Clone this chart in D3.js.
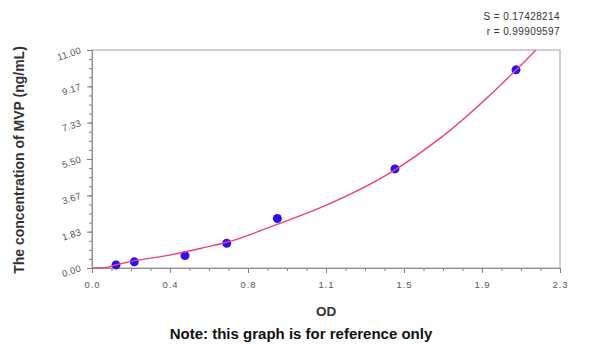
<!DOCTYPE html>
<html>
<head>
<meta charset="utf-8">
<script src="https://cdn.jsdelivr.net/npm/d3@7"></script>
<style>
  body { margin: 0; background: #fff; }
  svg text { font-family: "Liberation Sans", Arial, sans-serif; }
</style>
</head>
<body>
<div id="chart"></div>
<script>
// standards: OD vs concentration
var od = [0.118, 0.208, 0.457, 0.662, 0.911, 1.489, 2.084];
var conc = [0.156, 0.312, 0.625, 1.25, 2.5, 5, 10];

// fitted curve
var fitOd = [0, 0.064, 0.113, 0.211, 0.359, 0.555, 0.663, 0.909, 1.12, 1.489, 1.71, 2.084, 2.182];
var fitConc = [0, 0.02, 0.15, 0.37, 0.61, 1.04, 1.3, 2.2, 3.03, 4.95, 6.54, 9.99, 11.0];

var xTickLabels = ["0.0", "0.4", "0.8", "1.1", "1.5", "1.9", "2.3"];
var yTickLabels = ["0.00", "1.83", "3.67", "5.50", "7.33", "9.17", "11.00"];
var xMax = 2.3, yMax = 11;
var statS = "S = 0.17428214";
var statR = "r = 0.99909597";

var W = 600, H = 355;
var margin = {top: 50, right: 40, bottom: 87, left: 92};
var w = W - margin.left - margin.right;
var h = H - margin.top - margin.bottom;

var svg = d3.select("#chart").append("svg")
    .attr("width", W)
    .attr("height", H);

var g = svg.append("g")
    .attr("transform", "translate(" + margin.left + "," + margin.top + ")");

var x = d3.scaleLinear().domain([0, xMax]).range([0, w]);
var y = d3.scaleLinear().domain([0, yMax]).range([h, 0]);

var nMaj = xTickLabels.length - 1;
var xMajor = xTickLabels.map(function(d, i){ return i * xMax / nMaj; });
var yMajor = yTickLabels.map(function(d, i){ return i * yMax / nMaj; });
var xMinor = d3.range(nMaj * 4 + 1).map(function(i){ return i * xMax / (nMaj * 4); });
var yMinor = d3.range(nMaj * 4 + 1).map(function(i){ return i * yMax / (nMaj * 4); });

// frame
g.append("rect")
    .attr("width", w)
    .attr("height", h)
    .attr("fill", "none")
    .attr("stroke", "#a0a0a0")
    .attr("stroke-width", 1);

// minor ticks
g.append("g")
    .attr("transform", "translate(0," + h + ")")
    .call(d3.axisBottom(x).tickValues(xMinor).tickSize(3).tickFormat(""))
    .call(function(a){ a.select(".domain").remove(); });
g.append("g")
    .call(d3.axisLeft(y).tickValues(yMinor).tickSize(3).tickFormat(""))
    .call(function(a){ a.select(".domain").remove(); });

// major axes
var xAxis = g.append("g")
    .attr("transform", "translate(0," + h + ")")
    .call(d3.axisBottom(x).tickValues(xMajor).tickSize(5).tickPadding(8)
        .tickFormat(function(d, i){ return xTickLabels[i]; }));
var yAxis = g.append("g")
    .call(d3.axisLeft(y).tickValues(yMajor).tickSize(5).tickPadding(6)
        .tickFormat(function(d, i){ return yTickLabels[i]; }));

g.selectAll(".domain").attr("stroke", "#909090");
g.selectAll(".tick line").attr("stroke", "#808080");
xAxis.selectAll("text")
    .attr("fill", "#555")
    .style("font-size", "9.5px")
    .style("letter-spacing", "1px");
yAxis.selectAll("text")
    .attr("fill", "#555")
    .style("font-size", "9.5px")
    .style("letter-spacing", "0.3px")
    .attr("transform", "rotate(-18,-12,0)");

// standard points
g.selectAll(".pt")
    .data(od)
    .enter().append("circle")
    .attr("class", "pt")
    .attr("cx", function(d){ return x(d); })
    .attr("cy", function(d, i){ return y(conc[i]); })
    .attr("r", 4.5)
    .attr("fill", "#2a10ee");

// fitted curve
g.append("clipPath").attr("id", "clip")
    .append("rect").attr("x", -3).attr("y", 0).attr("width", w + 3).attr("height", h + 2);

var line = d3.line()
    .x(function(d){ return x(d); })
    .y(function(d, i){ return y(fitConc[i]); })
    .curve(d3.curveMonotoneX);

g.append("path")
    .datum(fitOd)
    .attr("clip-path", "url(#clip)")
    .attr("d", line)
    .attr("fill", "none")
    .attr("stroke", "#f0407a")
    .attr("stroke-width", 1.4);

// titles
svg.append("text")
    .attr("transform", "translate(24," + (margin.top + h / 2 + 1) + ") rotate(-90)")
    .attr("text-anchor", "middle")
    .attr("fill", "#333")
    .style("font-size", "14px")
    .style("font-weight", "bold")
    .text("The concentration of MVP (ng/mL)");

svg.append("text")
    .attr("x", margin.left + w / 2)
    .attr("y", 316)
    .attr("text-anchor", "middle")
    .attr("fill", "#333")
    .style("font-size", "13.5px")
    .style("font-weight", "bold")
    .text("OD");

svg.append("text")
    .attr("x", 301)
    .attr("y", 339)
    .attr("text-anchor", "middle")
    .attr("fill", "#111")
    .style("font-size", "15px")
    .style("font-weight", "bold")
    .text("Note: this graph is for reference only");

svg.append("text")
    .attr("x", margin.left + w)
    .attr("y", 20)
    .attr("text-anchor", "end")
    .attr("fill", "#333")
    .style("font-size", "10px")
    .style("letter-spacing", "0.4px")
    .text(statS);
svg.append("text")
    .attr("x", margin.left + w)
    .attr("y", 35)
    .attr("text-anchor", "end")
    .attr("fill", "#333")
    .style("font-size", "10px")
    .style("letter-spacing", "0.4px")
    .text(statR);
</script>
</body>
</html>
